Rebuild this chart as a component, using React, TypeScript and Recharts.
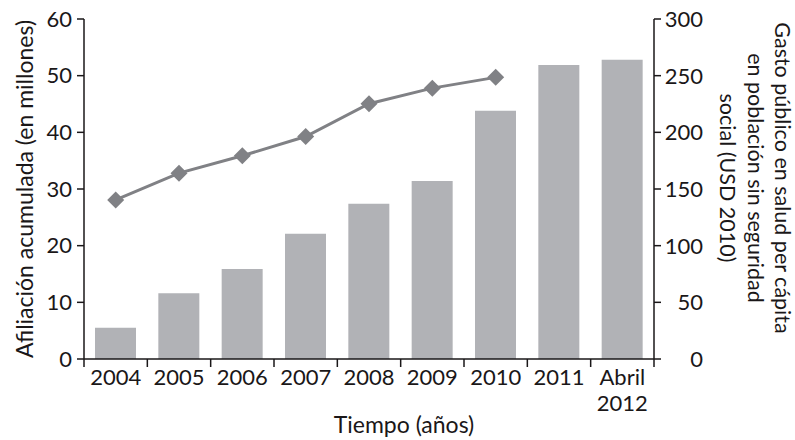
import React from 'react';
import { ComposedChart, Bar, Line, XAxis, YAxis } from 'recharts';

const categories: string[] = ['2004', '2005', '2006', '2007', '2008', '2009', '2010', '2011', 'Abril\n2012'];
const afiliacion: number[] = [5.5, 11.6, 15.9, 22.1, 27.4, 31.4, 43.8, 51.9, 52.8];
const gasto: (number | null)[] = [140.4, 164, 179.3, 196.3, 225.2, 239, 248.5, null, null];
const leftTicks: number[] = [0, 10, 20, 30, 40, 50, 60];
const rightTicks: number[] = [0, 50, 100, 150, 200, 250, 300];
const leftLabel = 'Afiliación acumulada (en millones)';
const rightLabelLines: string[] = ['Gasto público en salud per cápita', 'en población sin seguridad', 'social (USD 2010)'];
const xLabel = 'Tiempo (años)';

const data = categories.map((c, i) => ({ cat: c, afiliacion: afiliacion[i], gasto: gasto[i] }));

const W = 795;
const H = 440;
const LEFT_W = 84;
const RIGHT_W = 141;
const XAXIS_H = 81;
const TOP = 19;
const PLOT_W = W - LEFT_W - RIGHT_W;
const BAND = PLOT_W / categories.length;
const FONT = 'Lato, "Open Sans", sans-serif';
const INK = '#1a1718';
const BAR = '#b1b2b6';
const LINE = '#808185';
const TICK = 8;
const TICK_FS = 22;

const XTick = (props: any) => {
  const { x, y, payload, index } = props;
  const axisY = y - TICK;
  const lines = String(payload.value).split('\n');
  const isLast = index === categories.length - 1;
  return (
    <g>
      <line x1={x - BAND / 2} x2={x - BAND / 2} y1={axisY} y2={axisY + TICK} stroke={INK} strokeWidth={1.5} />
      {isLast && (
        <line x1={x + BAND / 2} x2={x + BAND / 2} y1={axisY} y2={axisY + TICK} stroke={INK} strokeWidth={1.5} />
      )}
      <text x={x} y={y + 18} textAnchor="middle" fontFamily={FONT} fontSize={TICK_FS} fill={INK}>
        {lines.map((l, i) => (
          <tspan key={i} x={x} dy={i === 0 ? 0 : 26}>{l}</tspan>
        ))}
      </text>
    </g>
  );
};

const RightTick = (props: any) => {
  const { x, y, payload } = props;
  return (
    <text x={x + 40} y={y} dy="0.36em" textAnchor="end" fontFamily={FONT} fontSize={TICK_FS} fill={INK}>
      {payload.value}
    </text>
  );
};

const Diamond = (props: any) => {
  const { cx, cy, index, value } = props;
  if (value == null || cy == null || cx == null) return <g key={`d-${index}`} />;
  const r = 8.5;
  return (
    <path
      key={`d-${index}`}
      d={`M${cx},${cy - r} L${cx + r},${cy} L${cx},${cy + r} L${cx - r},${cy} Z`}
      fill={LINE}
    />
  );
};

export default function App() {
  return (
    <div style={{ position: 'absolute', left: 0, top: 0, width: W, height: H, background: '#fff' }}>
      <ComposedChart width={W} height={H} data={data} margin={{ top: TOP, right: 0, bottom: 0, left: 0 }}>
        <XAxis
          dataKey="cat"
          height={XAXIS_H}
          axisLine={{ stroke: INK, strokeWidth: 1.5 }}
          tickLine={false}
          tickSize={TICK}
          tickMargin={0}
          interval={0}
          tick={<XTick />}
          label={{
            content: (p: any) => {
              const vb = p.viewBox;
              return (
                <text x={vb.x + vb.width / 2 + 35} y={433} textAnchor="middle" fontFamily={FONT} fontSize={23} fill={INK}>
                  {xLabel}
                </text>
              );
            },
          }}
        />
        <YAxis
          yAxisId="left"
          orientation="left"
          width={LEFT_W}
          domain={[0, 60]}
          ticks={leftTicks}
          interval={0}
          axisLine={{ stroke: INK, strokeWidth: 1.5 }}
          tickLine={{ stroke: INK, strokeWidth: 1.5 }}
          tickSize={7}
          tickMargin={5}
          tick={{ fontFamily: FONT, fontSize: TICK_FS, fill: INK }}
          label={{
            content: (p: any) => {
              const vb = p.viewBox;
              const cx = vb.x + 24;
              const cy = vb.y + vb.height / 2;
              return (
                <text x={cx} y={cy} transform={`rotate(-90 ${cx} ${cy})`} textAnchor="middle" dominantBaseline="central" fontFamily={FONT} fontSize={23} fill={INK}>
                  {leftLabel}
                </text>
              );
            },
          }}
        />
        <YAxis
          yAxisId="right"
          orientation="right"
          width={RIGHT_W}
          domain={[0, 300]}
          ticks={rightTicks}
          interval={0}
          axisLine={{ stroke: INK, strokeWidth: 1.5 }}
          tickLine={{ stroke: INK, strokeWidth: 1.5 }}
          tickSize={7}
          tickMargin={2}
          tick={<RightTick />}
          label={{
            content: (p: any) => {
              const vb = p.viewBox;
              const cy = 178;
              return (
                <g>
                  {rightLabelLines.map((l, i) => {
                    const cx = vb.x + 129 - i * 27.5;
                    return (
                      <text key={i} x={cx} y={cy} transform={`rotate(90 ${cx} ${cy})`} textAnchor="middle" dominantBaseline="central" fontFamily={FONT} fontSize={21.5} fill={INK}>
                        {l}
                      </text>
                    );
                  })}
                </g>
              );
            },
          }}
        />
        <Bar yAxisId="left" dataKey="afiliacion" fill={BAR} barSize={41} isAnimationActive={false} />
        <Line
          yAxisId="right"
          dataKey="gasto"
          stroke={LINE}
          strokeWidth={3}
          dot={Diamond}
          activeDot={false}
          connectNulls={false}
          isAnimationActive={false}
        />
      </ComposedChart>
    </div>
  );
}
